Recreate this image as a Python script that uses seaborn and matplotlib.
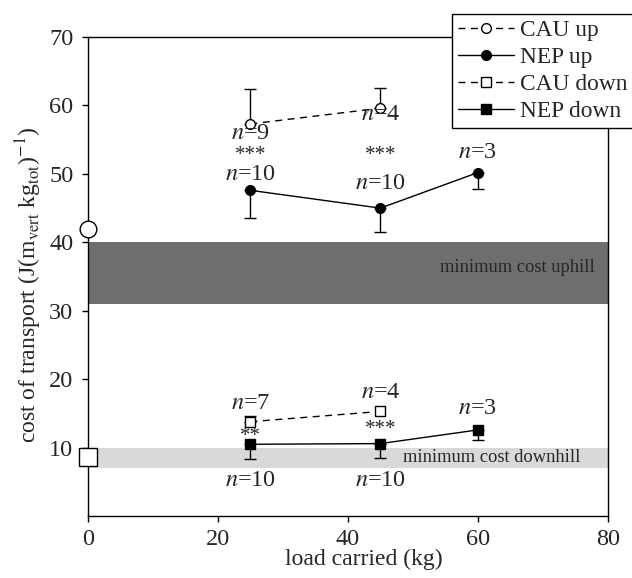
import numpy as np
import pandas as pd
import seaborn as sns
import matplotlib.pyplot as plt

# series values (cost of transport, J (m_vert kg_tot)^-1)
cau_up_x = [25, 45]
cau_up_y = [57.3, 59.6]
cau_up_err = [5.1, 2.9]          # drawn upwards

nep_up_x = [25, 45, 60]
nep_up_y = [47.6, 45.0, 50.2]
nep_up_err = [4.0, 3.5, 2.4]     # drawn downwards

cau_down_x = [25, 45]
cau_down_y = [13.8, 15.3]
cau_down_err = [0.9, 0.0]        # drawn upwards

nep_down_x = [25, 45, 60]
nep_down_y = [10.5, 10.6, 12.6]
nep_down_err = [2.2, 2.1, 1.5]   # drawn downwards

# unloaded reference values at x = 0
unloaded_up = 41.9
unloaded_down = 8.6

# minimum cost bands
band_up = (31.0, 40.0)
band_down = (7.0, 10.0)

# sample-size / significance labels
ann_text = ["$n$=9", "***", "$n$=10", "$n$=4", "***", "$n$=10", "$n$=3",
            "$n$=7", "**", "$n$=10", "$n$=4", "***", "$n$=10", "$n$=3"]
ann_x = [25, 25, 25, 45, 45, 45, 60,
         25, 25, 25, 45, 45, 45, 60]
ann_y = [55.9, 52.7, 49.9, 58.7, 52.7, 48.6, 53.1,
         16.4, 11.6, 5.15, 18.0, 12.6, 5.15, 15.8]

sns.set_style("ticks")
plt.rcParams['font.family'] = ['Liberation Serif', 'DejaVu Serif']
plt.rcParams['mathtext.fontset'] = 'stix'

fig = plt.figure(figsize=(6.32, 5.78), dpi=100)
ax = fig.add_axes([0.139, 0.107, 0.823, 0.829])

ax.axhspan(*band_up, color='#6e6e6e', lw=0, zorder=0)
ax.axhspan(*band_down, color='#d9d9d9', lw=0, zorder=0)
ax.text(77.9, 36.3, "minimum cost uphill", ha='right', va='center', fontsize=13.3)
ax.text(75.7, 8.5, "minimum cost downhill", ha='right', va='center', fontsize=13.3)

series = [
    ("CAU up", cau_up_x, cau_up_y, cau_up_err, 'o', 'white', (5, 4), 1),
    ("NEP up", nep_up_x, nep_up_y, nep_up_err, 'o', 'black', None, -1),
    ("CAU down", cau_down_x, cau_down_y, cau_down_err, 's', 'white', (5, 4), 1),
    ("NEP down", nep_down_x, nep_down_y, nep_down_err, 's', 'black', None, -1),
]

for name, xs, ys, errs, mk, fc, dash, direction in series:
    df = pd.DataFrame({"load": xs, "cot": ys, "err": errs})
    kw = dict(dashes=dash) if dash else {}
    sns.lineplot(data=df, x="load", y="cot", ax=ax, color='black', lw=1,
                 marker=mk, markersize=7 if mk == 'o' else 6.5,
                 markerfacecolor=fc, markeredgecolor='black', markeredgewidth=1,
                 label=name, zorder=4, **kw)
    e = df[df["err"] > 0]
    zeros = np.zeros(len(e))
    yerr = [zeros, e["err"]] if direction > 0 else [e["err"], zeros]
    ax.errorbar(e["load"], e["cot"], yerr=yerr, fmt='none', ecolor='black',
                elinewidth=1, capsize=4, capthick=1, zorder=3)

ax.plot([0], [unloaded_up], marker='o', markersize=12, markerfacecolor='white',
        markeredgecolor='black', markeredgewidth=1, clip_on=False, zorder=5)
ax.plot([0], [unloaded_down], marker='s', markersize=12.5, markerfacecolor='white',
        markeredgecolor='black', markeredgewidth=1, clip_on=False, zorder=5)

for t, x, y in zip(ann_text, ann_x, ann_y):
    stars = '$' not in t
    ax.text(x, y, t, ha='center', va='center', fontsize=15 if stars else 17.5, zorder=6)

ax.set_xlim(0, 80)
ax.set_ylim(0, 70)
ax.set_xticks([0, 20, 40, 60, 80])
ax.set_yticks([10, 20, 30, 40, 50, 60, 70])
ax.tick_params(labelsize=17.5, length=4.5, width=1, color='black')
ax.tick_params(axis='y', pad=6)
ax.tick_params(axis='x', pad=5)
for s in ax.spines.values():
    s.set_linewidth(1)
    s.set_color('black')

ax.set_xlabel("load carried (kg)", fontsize=17)
ax.set_ylabel(r"cost of transport (J(m$_{\rm vert}$ kg$_{\rm tot}$)$^{-1}$)", fontsize=17)
ax.xaxis.set_label_coords(0.531, -0.068)
ax.yaxis.set_label_coords(-0.085, 0.482)

leg = ax.legend(loc='upper left', bbox_to_anchor=(0.715, 0.976), bbox_transform=fig.transFigure,
                borderaxespad=0, fontsize=16.8, frameon=True, fancybox=False, framealpha=1,
                edgecolor='black', handlelength=2.4, handletextpad=0.25, labelspacing=0.24,
                borderpad=0.25)
leg.get_frame().set_linewidth(1)
leg.set_zorder(10)

fig.savefig("out.png", dpi=100)
